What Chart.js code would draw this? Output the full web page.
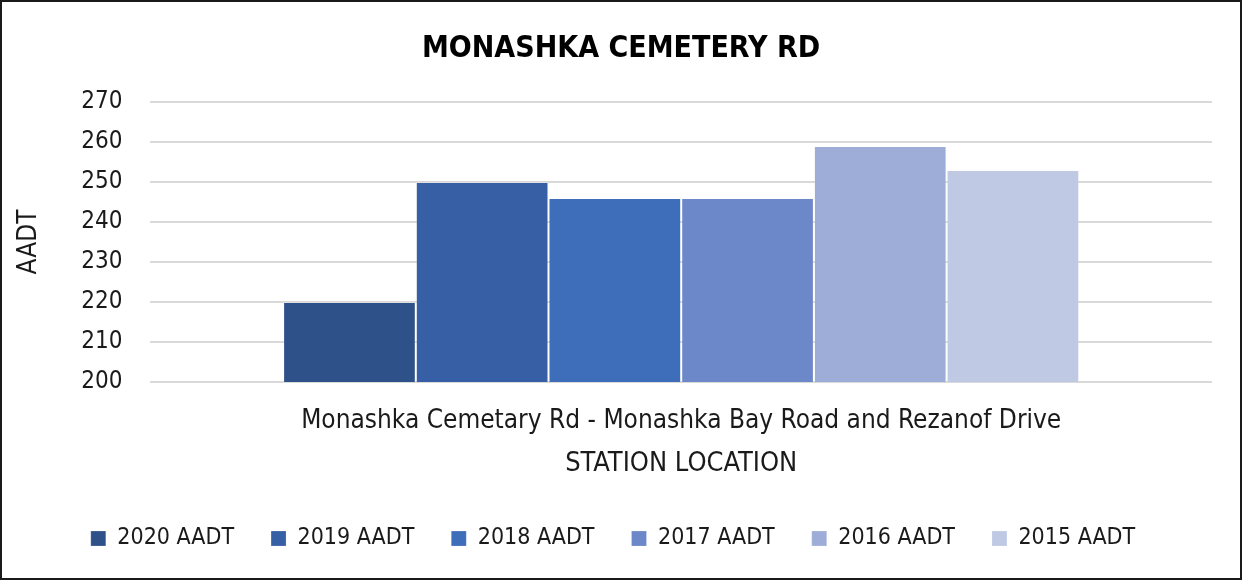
<!DOCTYPE html>
<html>
<head>
<meta charset="utf-8">
<script src="https://cdn.jsdelivr.net/npm/chart.js@4/dist/chart.umd.min.js"></script>
<style>
  html, body { margin: 0; padding: 0; background: #fff; }
  #frame {
    width: 1242px; height: 580px; box-sizing: border-box;
    border: 2px solid #1a1a1a; position: relative; background: #fff;
  }
  #wrap { position: absolute; left: 0; top: 0; right: 0; bottom: 0; }
</style>
</head>
<body>
<div id="frame"><div id="wrap"><canvas id="chart"></canvas></div></div>
<script>
const categories = ["Monashka Cemetary Rd - Monashka Bay Road and Rezanof Drive"];
const seriesNames = ["2020 AADT", "2019 AADT", "2018 AADT", "2017 AADT", "2016 AADT", "2015 AADT"];
const seriesValues = [220, 250, 246, 246, 259, 253];
const seriesColors = ["#2e5189", "#375fa6", "#3e6dba", "#6d88c8", "#9eadd8", "#bfc9e4"];
const yTicks = [200, 210, 220, 230, 240, 250, 260, 270];

const font = "Liberation Sans Narrow, 'DejaVu Sans Condensed', 'Noto Sans', sans-serif";
Chart.defaults.font.family = font;
Chart.defaults.color = "#1a1a1a";

// nudge the title so it sits centred on the whole picture
const titleShift = {
  id: "titleShift",
  afterLayout(chart) {
    if (chart.titleBlock) {
      chart.titleBlock.left += 16;
    }
  },
};

const ctx = document.getElementById("chart").getContext("2d");
new Chart(ctx, {
  type: "bar",
  data: {
    labels: categories,
    datasets: seriesNames.map((name, i) => ({
      label: name,
      data: [seriesValues[i]],
      backgroundColor: seriesColors[i],
      borderColor: "rgba(255,255,255,0.2)",
      borderWidth: 1,
      categoryPercentage: 0.75,
      barPercentage: 1.0,
    })),
  },
  options: {
    responsive: true,
    maintainAspectRatio: false,
    animation: false,
    layout: { padding: { left: 12, right: 28, top: 18, bottom: 18 } },
    plugins: {
      title: {
        display: true,
        text: "MONASHKA CEMETERY RD",
        font: { size: 30, weight: "bold" },
        color: "#000",
        padding: { top: 11, bottom: 35 },
      },
      legend: {
        position: "bottom",
        labels: {
          boxWidth: 15,
          boxHeight: 15,
          padding: 37,
          font: { size: 23 },
          color: "#1a1a1a",
        },
      },
      tooltip: { enabled: false },
    },
    scales: {
      x: {
        afterFit: axis => { axis.height = 108; },
        grid: { display: false },
        border: { display: false },
        ticks: { font: { size: 26 }, color: "#1a1a1a", padding: 16 },
        title: {
          display: true,
          text: "STATION LOCATION",
          font: { size: 27 },
          color: "#1a1a1a",
          padding: { top: 0, bottom: 10 },
        },
      },
      y: {
        min: 200,
        max: 270,
        afterBuildTicks: axis => { axis.ticks = yTicks.map(v => ({ value: v })); },
        grid: { color: "#d9d9d9", lineWidth: 2, drawTicks: false },
        border: { display: false },
        ticks: { font: { size: 24 }, color: "#1a1a1a", padding: 28 },
        title: {
          display: true,
          text: "AADT",
          font: { size: 26 },
          color: "#1a1a1a",
          padding: { top: 0, bottom: 8 },
        },
      },
    },
  },
  plugins: [titleShift],
});
</script>
</body>
</html>
